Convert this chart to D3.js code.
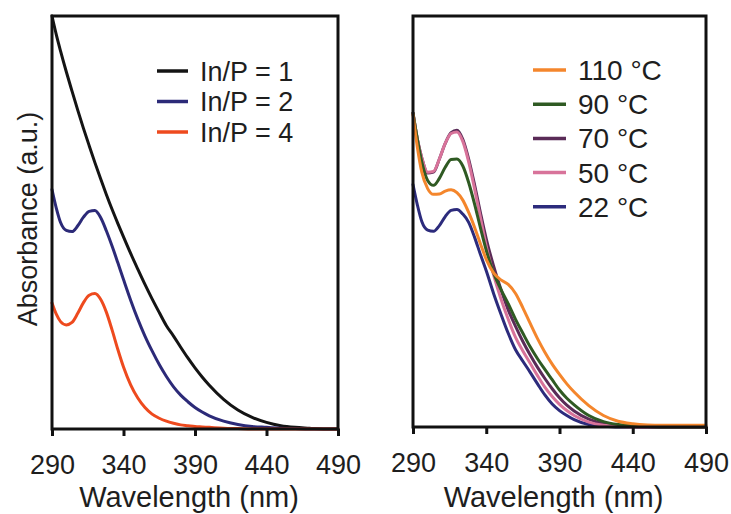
<!DOCTYPE html>
<html>
<head>
<meta charset="utf-8">
<script src="https://cdn.jsdelivr.net/npm/d3@7/dist/d3.min.js"></script>
<style>
  html, body { margin: 0; padding: 0; background: #fff; }
  svg { display: block; font-family: "Liberation Sans", Arial, Helvetica, sans-serif; }
</style>
</head>
<body>
<svg id="chart" width="731" height="514"></svg>
<script>
// ---- Data ----
const wavelengths = [290,293,296,300,304,308,312,316,320,324,328,332,336,340,345,350,355,360,365,370,375,380,385,390,395,400,410,420,430,440,450,460,470,480,490];
const xTicks = [290, 340, 390, 440, 490];

// Left panel: In/P ratio
const leftLabels = ["In/P = 1", "In/P = 2", "In/P = 4"];
const leftColors = ["#141414", "#2c2a78", "#ee4a1e"];
const inP1 = [1.000,0.955,0.915,0.865,0.818,0.772,0.728,0.686,0.645,0.606,0.568,0.532,0.498,0.465,
              0.425,0.387,0.350,0.315,0.282,0.250,0.225,0.198,0.172,0.148,0.126,0.106,
              0.072,0.046,0.028,0.016,0.008,0.004,0.002,0,0];
const inP2 = [0.580,0.535,0.500,0.481,0.478,0.492,0.513,0.527,0.529,0.512,0.480,0.443,0.403,0.362,
              0.312,0.266,0.225,0.189,0.156,0.127,0.102,0.082,0.066,0.052,0.041,0.032,
              0.019,0.011,0.006,0.004,0.002,0.001,0,0,0];
const inP4 = [0.305,0.278,0.260,0.252,0.258,0.280,0.306,0.324,0.328,0.314,0.283,0.240,0.193,0.150,
              0.107,0.075,0.052,0.036,0.026,0.019,0.014,0.010,0.008,0.006,0.005,0.004,
              0.002,0.001,0,0,0,0,0,0,0];

// Right panel: temperature
const rightLabels = ["110 °C", "90 °C", "70 °C", "50 °C", "22 °C"];
const rightColors = ["#f4862c", "#2f5a23", "#5a2b57", "#d8739a", "#2c2b7c"];
const t110 = [0.760,0.680,0.620,0.580,0.566,0.567,0.574,0.577,0.570,0.552,0.522,0.486,0.446,0.408,
              0.375,0.358,0.347,0.325,0.290,0.252,0.215,0.182,0.153,0.128,0.105,0.085,
              0.052,0.028,0.014,0.008,0.005,0.004,0.004,0.004,0.004];
const t90  = [0.764,0.700,0.645,0.600,0.588,0.605,0.632,0.651,0.652,0.635,0.595,0.543,0.485,0.430,
              0.375,0.335,0.300,0.262,0.228,0.195,0.166,0.140,0.115,0.090,0.070,0.054,
              0.028,0.013,0.006,0.003,0.001,0,0,0,0];
const t70  = [0.764,0.700,0.655,0.618,0.620,0.652,0.690,0.716,0.722,0.700,0.652,0.590,0.522,0.458,
              0.392,0.335,0.285,0.245,0.208,0.175,0.145,0.118,0.093,0.071,0.053,0.039,
              0.019,0.008,0.003,0.001,0,0,0,0,0];
const t50  = [0.764,0.700,0.655,0.620,0.622,0.652,0.690,0.714,0.718,0.695,0.645,0.580,0.510,0.440,
              0.370,0.312,0.262,0.218,0.185,0.155,0.125,0.097,0.074,0.055,0.040,0.028,
              0.012,0.004,0.001,0,0,0,0,0,0];
const t22  = [0.590,0.540,0.500,0.479,0.476,0.490,0.512,0.527,0.529,0.518,0.498,0.462,0.420,0.380,
              0.325,0.275,0.228,0.188,0.160,0.133,0.105,0.078,0.056,0.040,0.028,0.018,
              0.006,0.002,0,0,0,0,0,0,0];

const leftSeries = [inP1, inP2, inP4];
const rightSeries = [t110, t90, t70, t50, t22];

// ---- Drawing ----
const svg = d3.select("#chart");
const textColor = "#1e1e1e";

function panel(opts) {
  const {x0, x1, y0, y1, series, colors, drawOrder, labels, legend} = opts;
  const x = d3.scaleLinear().domain([290, 490]).range([x0, x1]);
  const y = d3.scaleLinear().domain([0, 1]).range([y1, y0]);
  const g = svg.append("g");

  const line = d3.line()
    .x((d, i) => x(wavelengths[i]))
    .y(d => y(d))
    .curve(d3.curveMonotoneX);

  drawOrder.forEach(k => {
    g.append("path")
      .attr("d", line(series[k]))
      .attr("fill", "none")
      .attr("stroke", colors[k])
      .attr("stroke-width", 3)
      .attr("stroke-linejoin", "round")
      .attr("stroke-linecap", "round");
  });

  // frame
  g.append("rect")
    .attr("x", x0).attr("y", y0)
    .attr("width", x1 - x0).attr("height", y1 - y0)
    .attr("fill", "none").attr("stroke", "#111").attr("stroke-width", 3);

  // bottom axis
  const ax = g.append("g")
    .attr("transform", `translate(0,${y1})`)
    .call(d3.axisBottom(x).tickValues(xTicks).tickSize(7).tickSizeOuter(0).tickPadding(19).tickFormat(d3.format("d")));
  ax.select(".domain").remove();
  ax.selectAll(".tick line").attr("stroke", "#111").attr("stroke-width", 3);
  ax.selectAll(".tick text")
    .attr("fill", textColor)
    .style("font-size", "27px")
    .style("font-family", "'Liberation Sans', Arial, sans-serif");

  // x title
  g.append("text")
    .attr("x", (x0 + x1) / 2 - 6)
    .attr("y", 507)
    .attr("text-anchor", "middle")
    .attr("fill", textColor)
    .style("font-size", "29px")
    .text("Wavelength (nm)");

  // legend
  labels.forEach((lab, i) => {
    const cy = legend.y + i * legend.dy;
    g.append("line")
      .attr("x1", legend.x).attr("x2", legend.x + legend.len)
      .attr("y1", cy).attr("y2", cy)
      .attr("stroke", colors[i]).attr("stroke-width", 3.5);
    g.append("text")
      .attr("x", legend.tx).attr("y", cy)
      .attr("dy", "0.36em")
      .attr("fill", textColor)
      .style("font-size", legend.fs + "px")
      .text(lab);
  });
}

panel({
  x0: 52, x1: 338, y0: 16, y1: 429,
  series: leftSeries, colors: leftColors, drawOrder: [0, 1, 2],
  labels: leftLabels,
  legend: {x: 157, len: 31, tx: 200, y: 71, dy: 30.5, fs: 27}
});

panel({
  x0: 413, x1: 706, y0: 16, y1: 427,
  series: rightSeries, colors: rightColors, drawOrder: [4, 2, 3, 1, 0],
  labels: rightLabels,
  legend: {x: 533, len: 33, tx: 578, y: 70, dy: 34.2, fs: 28}
});

// y title
svg.append("text")
  .attr("transform", "translate(27,219) rotate(-90)")
  .attr("text-anchor", "middle")
  .attr("dy", "0.36em")
  .attr("fill", textColor)
  .style("font-size", "27px")
  .text("Absorbance (a.u.)");
</script>
</body>
</html>
